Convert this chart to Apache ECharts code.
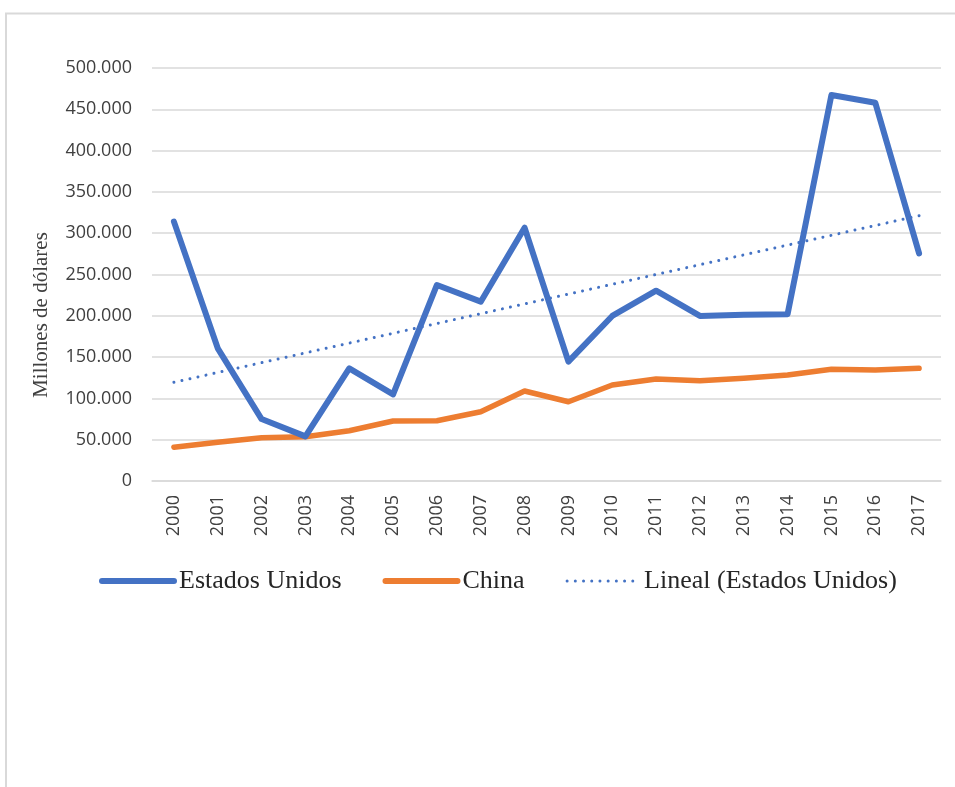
<!DOCTYPE html>
<html>
<head>
<meta charset="utf-8">
<title>Estados Unidos y China</title>
<script src="https://cdn.jsdelivr.net/npm/echarts@6/dist/echarts.min.js"></script>
<style>
    html, body { margin: 0; padding: 0; background: #fff; }
    #chart { width: 955px; height: 787px; }
</style>
</head>
<body>
<div id="chart"></div>
<script>
// datos (millones de dolares)
let years = ['2000', '2001', '2002', '2003', '2004', '2005', '2006', '2007', '2008',
    '2009', '2010', '2011', '2012', '2013', '2014', '2015', '2016', '2017'];
let estadosUnidos = [314000, 160600, 75000, 54000, 136400, 104900, 237300, 217100, 306700,
    144500, 199800, 230400, 199800, 201400, 202000, 467300, 458000, 275600];
let china = [40800, 47000, 52400, 53600, 60900, 72600, 73000, 83900, 109000,
    96000, 116200, 123500, 121400, 124300, 128300, 135200, 134400, 136400];
// tendencia lineal (Estados Unidos): valores en 2000 y 2017
let tendencia = [['2000', 119500], ['2017', 321200]];

let BLUE = '#4472C4';
let ORANGE = '#ED7D31';
let LABEL_COLOR = '#404040';
let GRID_COLOR = '#d9d9d9';
let DOTS = [0.01, 8.2]; //linea punteada redonda

function miles(v) {
    return String(v).replace(/\B(?=(\d{3})+(?!\d))/g, '.');
}

let myChart = echarts.init(document.getElementById('chart'));
let option = {
    animation: false,
    grid: {
        left: 152,
        right: 14,
        top: 68,
        bottom: 306
    },
    graphic: [
        {
            // marco del grafico
            type: 'rect',
            shape: {x: 6, y: 13.5, width: 1200, height: 1000},
            style: {fill: 'none', stroke: GRID_COLOR, lineWidth: 2},
            silent: true
        },
        {
            type: 'text',
            x: 41,
            y: 315,
            rotation: Math.PI / 2,
            style: {
                text: 'Millones de dólares',
                font: '21px "Liberation Serif"',
                fill: LABEL_COLOR,
                align: 'center',
                verticalAlign: 'middle'
            }
        }
    ],
    legend: {
        left: 99,
        top: 568,
        padding: 0,
        itemWidth: 72,
        itemHeight: 14,
        itemGap: 41,
        itemStyle: {opacity: 0},
        textStyle: {
            fontFamily: 'Liberation Serif',
            fontSize: 26,
            color: '#262626'
        },
        data: [
            {name: 'Estados Unidos', lineStyle: {width: 6, cap: 'round'}},
            {name: 'China', lineStyle: {width: 6, cap: 'round'}},
            {name: 'Lineal (Estados Unidos)', lineStyle: {width: 3, type: DOTS, cap: 'round'}}
        ]
    },
    xAxis: {
        type: 'category',
        data: years,
        boundaryGap: true,
        axisLine: {lineStyle: {color: GRID_COLOR, width: 1.5}},
        axisTick: {show: false},
        axisLabel: {
            rotate: 90,
            margin: 14,
            fontFamily: 'Open Sans',
            fontSize: 18,
            color: LABEL_COLOR
        }
    },
    yAxis: {
        type: 'value',
        min: 0,
        max: 500000,
        interval: 50000,
        axisLine: {show: false},
        axisTick: {show: false},
        splitLine: {lineStyle: {color: GRID_COLOR, width: 1.5}},
        axisLabel: {
            margin: 20,
            fontFamily: 'Open Sans',
            fontSize: 18,
            color: LABEL_COLOR,
            formatter: miles
        }
    },
    series: [
        {
            name: 'Estados Unidos',
            type: 'line',
            data: estadosUnidos,
            symbol: 'none',
            z: 3,
            itemStyle: {color: BLUE},
            lineStyle: {color: BLUE, width: 6, cap: 'round', join: 'round'}
        },
        {
            name: 'China',
            type: 'line',
            data: china,
            symbol: 'none',
            z: 2,
            itemStyle: {color: ORANGE},
            lineStyle: {color: ORANGE, width: 5.5, cap: 'round', join: 'round'}
        },
        {
            name: 'Lineal (Estados Unidos)',
            type: 'line',
            data: tendencia,
            symbol: 'none',
            z: 4,
            itemStyle: {color: BLUE},
            lineStyle: {color: BLUE, width: 3, type: DOTS, cap: 'round'}
        }
    ]
};
if (option && typeof option === "object") {
    myChart.setOption(option, true);
}
</script>
</body>
</html>
